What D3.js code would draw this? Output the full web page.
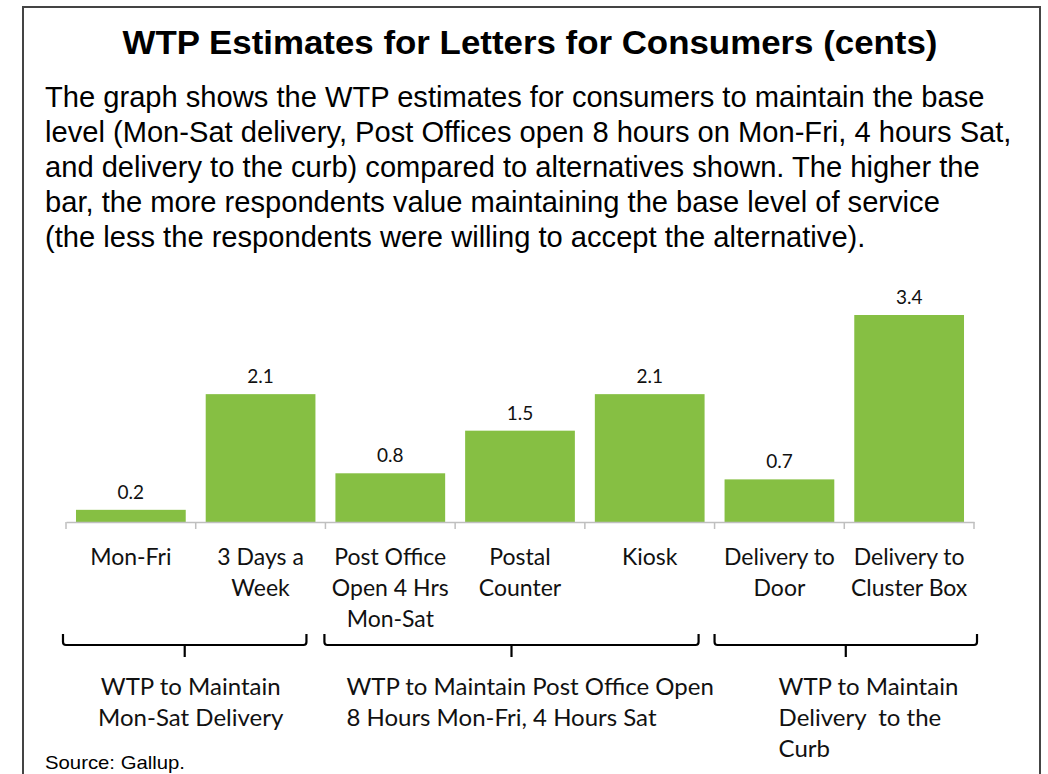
<!DOCTYPE html>
<html><head><meta charset="utf-8">
<script src="https://cdn.jsdelivr.net/npm/d3@7"></script>
<style>
html,body{margin:0;padding:0;background:#fff;}
svg{display:block;}
</style></head>
<body>
<svg id="chart" width="1048" height="774"></svg>
<script>
const titleText = "WTP Estimates for Letters for Consumers (cents)";
const paragraphLines = [
  "The graph shows the WTP estimates for consumers to maintain the base",
  "level (Mon-Sat delivery, Post Offices open 8 hours on Mon-Fri, 4 hours Sat,",
  "and delivery to the curb) compared to alternatives shown. The higher the",
  "bar, the more respondents value maintaining the base level of service",
  "(the less the respondents were willing to accept the alternative)."
];
const categories = ["Mon-Fri", "3 Days a Week", "Post Office Open 4 Hrs Mon-Sat", "Postal Counter", "Kiosk", "Delivery to Door", "Delivery to Cluster Box"];
const categoryLines = [["Mon-Fri"], ["3 Days a", "Week"], ["Post Office", "Open 4 Hrs", "Mon-Sat"], ["Postal", "Counter"], ["Kiosk"], ["Delivery to", "Door"], ["Delivery to", "Cluster Box"]];
const values = [0.2, 2.1, 0.8, 1.5, 2.1, 0.7, 3.4];
const groupFirst = [0, 2, 5];
const groupLast = [1, 4, 6];
const groupLabels = [["WTP to Maintain", "Mon-Sat Delivery"], ["WTP to Maintain Post Office Open", "8 Hours Mon-Fri, 4 Hours Sat"], ["WTP to Maintain", "Delivery  to the", "Curb"]];
const sourceText = "Source: Gallup.";

const svg = d3.select("#chart");
const green = "#86bf43";

// frame
svg.append("path")
  .attr("d", "M23,774 V7 H1040 V774")
  .attr("fill", "none").attr("stroke", "#444").attr("stroke-width", 2);

// title
const title = svg.append("text")
  .attr("x", 530).attr("y", 54)
  .attr("text-anchor", "middle")
  .attr("font-family", "Liberation Sans, Arial, sans-serif")
  .attr("font-weight", "bold").attr("font-size", 33)
  .attr("fill", "#000").text(titleText)
  .attr("textLength", 815).attr("lengthAdjust", "spacingAndGlyphs");

// paragraph
const para = svg.append("g");
const pLines = para.selectAll("text").data(paragraphLines).join("text")
  .attr("x", 0).attr("y", (d, i) => 107 + i * 35)
  .attr("font-family", "Liberation Sans, Arial, sans-serif")
  .attr("font-size", 29).attr("fill", "#000")
  .text(d => d);
const w0 = pLines.nodes()[0].getComputedTextLength();
const sx = 940 / w0;
para.attr("transform", `translate(45,0) scale(${sx},1)`);

// scales
const x = d3.scaleBand().domain(categories).range([66, 974]).paddingInner(0.154).paddingOuter(0.077);
const y = d3.scaleLinear().domain([0, 3.4]).range([522, 315]);

// bars
svg.append("g").selectAll("rect").data(values).join("rect")
  .attr("x", (d, i) => x(categories[i]))
  .attr("y", d => y(d))
  .attr("width", x.bandwidth())
  .attr("height", d => y(0) - y(d))
  .attr("fill", green);

// value labels
svg.append("g").selectAll("text").data(values).join("text")
  .attr("x", (d, i) => x(categories[i]) + x.bandwidth() / 2)
  .attr("y", d => y(d) - 11)
  .attr("text-anchor", "middle")
  .attr("font-family", "Lato, 'Open Sans', sans-serif")
  .attr("font-size", 19).attr("fill", "#111")
  .text(d => d.toFixed(1));

// axis
const axis = svg.append("g").attr("transform", `translate(0,${y(0)})`)
  .call(d3.axisBottom(x).tickSize(0).tickFormat(""));
axis.select(".domain").attr("stroke", "#bfbfbf").attr("stroke-width", 1.5);
const step = x.step();
const x0 = x.range()[0];
axis.selectAll(".bnd").data(d3.range(categories.length + 1)).join("line")
  .attr("class", "bnd")
  .attr("x1", i => x0 + i * step).attr("x2", i => x0 + i * step)
  .attr("y1", 0).attr("y2", 7)
  .attr("stroke", "#bfbfbf").attr("stroke-width", 1.5);

// category labels
const catG = svg.append("g");
categoryLines.forEach((lines, i) => {
  const t = catG.append("text")
    .attr("text-anchor", "middle")
    .attr("font-family", "Lato, 'Open Sans', sans-serif")
    .attr("font-size", 23).attr("fill", "#111");
  lines.forEach((ln, j) => {
    t.append("tspan").attr("x", x(categories[i]) + x.bandwidth() / 2)
      .attr("y", 565 + j * 31).text(ln);
  });
});

// brackets
const bw = x.bandwidth();
const padL = [13, 11, 10];
const padR = [-9, -6, 13];
const bg = svg.append("g").attr("fill", "none").attr("stroke", "#000").attr("stroke-width", 2.2);
const spans = groupFirst.map((f, k) => [x(categories[f]) - padL[k], x(categories[groupLast[k]]) + bw + padR[k]]);
spans.forEach(([a, b]) => {
  const m = (a + b) / 2;
  const top = 634, base = 645, r = 3;
  bg.append("path")
    .attr("d", `M${a},${top} V${base - r} Q${a},${base} ${a + r},${base} H${b - r} Q${b},${base} ${b},${base - r} V${top}`);
  bg.append("path").attr("d", `M${m},${base} V${base + 12}`);
});

// group labels
const glG = svg.append("g");
const anchors = ["middle", "start", "start"];
const offsets = [6, 22, 64];
groupLabels.forEach((lines, k) => {
  const [a, b] = spans[k];
  const px = anchors[k] === "middle" ? (a + b) / 2 + offsets[k] : a + offsets[k];
  const t = glG.append("text")
    .attr("text-anchor", anchors[k])
    .attr("font-family", "Lato, 'Open Sans', sans-serif")
    .attr("font-size", 24).attr("fill", "#111");
  lines.forEach((ln, j) => {
    t.append("tspan").attr("x", px).attr("y", 695 + j * 31).style("white-space", "pre").text(ln);
  });
});

// source
svg.append("text").attr("x", 45).attr("y", 769)
  .attr("font-family", "Liberation Sans, Arial, sans-serif")
  .attr("font-size", 19).attr("fill", "#000").text(sourceText)
  .attr("textLength", 140).attr("lengthAdjust", "spacingAndGlyphs");
</script>
</body></html>
